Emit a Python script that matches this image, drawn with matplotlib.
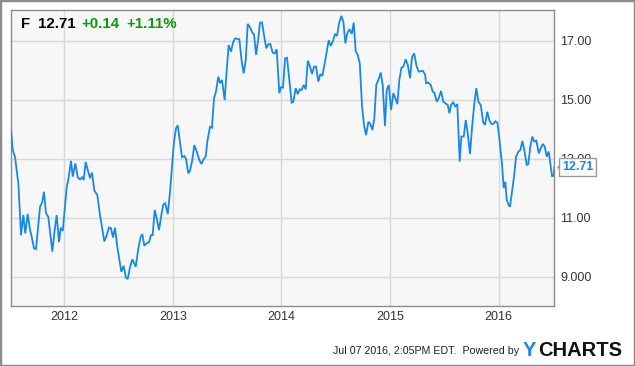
import matplotlib
matplotlib.use("Agg")
import matplotlib.pyplot as plt
from matplotlib.patches import Rectangle
from matplotlib.transforms import ScaledTranslation

plt.rcParams['font.family'] = ['Liberation Sans', 'DejaVu Sans']

# weekly-ish closing prices of F (dates as decimal years)
dates = [2011.510, 2011.525, 2011.546, 2011.577, 2011.602, 2011.623, 2011.641, 2011.663,
         2011.685, 2011.700, 2011.721, 2011.740, 2011.777, 2011.798, 2011.813, 2011.832,
         2011.853, 2011.890, 2011.908, 2011.930, 2011.952, 2011.967, 2011.986, 2012.023,
         2012.037, 2012.062, 2012.078, 2012.102, 2012.124, 2012.145, 2012.163, 2012.179,
         2012.197, 2012.216, 2012.237, 2012.255, 2012.277, 2012.304, 2012.329, 2012.369,
         2012.391, 2012.412, 2012.430, 2012.449, 2012.467, 2012.488, 2012.525, 2012.547,
         2012.566, 2012.584, 2012.605, 2012.627, 2012.658, 2012.682, 2012.704, 2012.719,
         2012.737, 2012.759, 2012.780, 2012.799, 2012.814, 2012.833, 2012.851, 2012.872,
         2012.894, 2012.912, 2012.930, 2012.953, 2012.974, 2012.999, 2013.011, 2013.029,
         2013.045, 2013.059, 2013.084, 2013.105, 2013.121, 2013.142, 2013.158, 2013.179,
         2013.197, 2013.220, 2013.243, 2013.262, 2013.280, 2013.302, 2013.318, 2013.342,
         2013.360, 2013.379, 2013.397, 2013.418, 2013.434, 2013.452, 2013.477, 2013.496,
         2013.514, 2013.535, 2013.557, 2013.575, 2013.593, 2013.612, 2013.634, 2013.652,
         2013.671, 2013.689, 2013.710, 2013.732, 2013.747, 2013.766, 2013.787, 2013.802,
         2013.821, 2013.839, 2013.860, 2013.879, 2013.897, 2013.919, 2013.938, 2013.956,
         2013.980, 2013.996, 2014.014, 2014.033, 2014.051, 2014.069, 2014.094, 2014.109,
         2014.131, 2014.150, 2014.168, 2014.186, 2014.205, 2014.223, 2014.242, 2014.263,
         2014.281, 2014.300, 2014.318, 2014.339, 2014.358, 2014.376, 2014.401, 2014.419,
         2014.435, 2014.453, 2014.475, 2014.493, 2014.511, 2014.530, 2014.551, 2014.570,
         2014.588, 2014.606, 2014.625, 2014.647, 2014.665, 2014.684, 2014.702, 2014.721,
         2014.742, 2014.760, 2014.779, 2014.800, 2014.818, 2014.837, 2014.855, 2014.873,
         2014.892, 2014.914, 2014.932, 2014.953, 2014.969, 2014.988, 2015.009, 2015.030,
         2015.048, 2015.067, 2015.085, 2015.104, 2015.122, 2015.144, 2015.163, 2015.184,
         2015.202, 2015.221, 2015.245, 2015.264, 2015.301, 2015.322, 2015.331, 2015.352,
         2015.374, 2015.393, 2015.407, 2015.430, 2015.448, 2015.469, 2015.490, 2015.509,
         2015.531, 2015.546, 2015.561, 2015.582, 2015.601, 2015.619, 2015.641, 2015.656,
         2015.678, 2015.697, 2015.715, 2015.736, 2015.755, 2015.776, 2015.794, 2015.813,
         2015.835, 2015.856, 2015.874, 2015.895, 2015.914, 2015.932, 2015.951, 2015.969,
         2015.988, 2016.006, 2016.031, 2016.046, 2016.061, 2016.074, 2016.093, 2016.104,
         2016.123, 2016.141, 2016.160, 2016.181, 2016.199, 2016.218, 2016.236, 2016.258,
         2016.273, 2016.291, 2016.310, 2016.328, 2016.347, 2016.369, 2016.387, 2016.406,
         2016.424, 2016.442, 2016.461, 2016.479, 2016.491, 2016.507, 2016.512]
prices = [13.97, 13.30, 13.07, 12.17, 10.41, 11.09, 10.47, 11.13,
          10.58, 10.36, 9.96, 9.94, 11.37, 11.54, 11.88, 11.15,
          11.03, 9.85, 10.47, 11.09, 10.17, 10.66, 10.55, 12.05,
          12.28, 12.93, 12.39, 12.84, 12.37, 12.30, 12.37, 12.28,
          12.89, 12.62, 12.34, 12.53, 11.92, 11.77, 11.09, 10.19,
          10.41, 10.67, 10.64, 10.33, 10.66, 10.02, 9.17, 9.37,
          8.98, 8.92, 9.32, 9.59, 9.34, 9.96, 10.36, 10.44,
          10.05, 10.13, 10.17, 10.41, 10.41, 11.26, 10.98, 10.58,
          11.09, 11.45, 11.49, 11.12, 11.88, 13.07, 13.58, 14.03,
          14.13, 13.75, 13.05, 13.09, 13.00, 12.50, 12.59, 12.96,
          13.46, 13.24, 12.96, 12.82, 12.96, 13.07, 13.60, 14.08,
          14.05, 15.05, 15.27, 15.78, 15.56, 15.67, 14.99, 16.01,
          16.85, 16.63, 16.97, 17.08, 17.06, 17.05, 16.29, 15.89,
          16.35, 17.57, 17.45, 17.27, 17.22, 16.52, 17.08, 17.61,
          17.62, 17.19, 16.74, 16.88, 16.89, 16.59, 16.57, 16.71,
          15.22, 15.42, 15.41, 16.40, 16.42, 15.78, 14.90, 14.93,
          15.39, 15.19, 15.35, 15.33, 15.50, 15.35, 16.32, 16.12,
          15.87, 16.12, 16.12, 15.61, 15.87, 15.80, 16.29, 16.68,
          17.02, 16.82, 17.00, 17.23, 17.16, 17.59, 17.84, 17.64,
          16.91, 17.25, 17.39, 17.23, 17.61, 16.63, 16.52, 16.23,
          14.76, 14.14, 13.80, 14.25, 14.18, 13.97, 14.37, 15.50,
          15.67, 15.92, 15.50, 14.11, 15.33, 15.50, 14.65, 15.22,
          15.05, 14.85, 15.67, 16.08, 16.12, 16.37, 16.18, 15.73,
          16.44, 16.57, 16.12, 15.95, 15.98, 15.86, 15.56, 15.58,
          15.50, 15.27, 15.24, 14.93, 15.05, 15.30, 14.93, 14.88,
          14.82, 14.54, 14.82, 14.92, 14.76, 14.85, 12.90, 13.75,
          13.75, 14.31, 13.86, 13.16, 14.08, 14.88, 15.39, 14.93,
          14.82, 14.25, 14.14, 14.59, 14.31, 14.18, 14.18, 14.27,
          14.22, 13.69, 12.79, 12.00, 12.22, 11.60, 11.43, 11.37,
          11.88, 12.39, 13.07, 13.24, 13.29, 13.60, 13.29, 12.79,
          12.82, 13.41, 13.75, 13.58, 13.61, 13.18, 13.35, 13.50,
          13.41, 13.07, 13.24, 12.73, 12.41, 12.42, 12.71]

year_ticks = [2012, 2013, 2014, 2015, 2016]
year_labels = ["2012", "2013", "2014", "2015", "2016"]
price_ticks = [9, 11, 13, 15, 17]
price_labels = ["9.000", "11.00", "13.00", "15.00", "17.00"]

ticker = "F"
last_price = "12.71"
change = "+0.14"
change_pct = "+1.11%"

W, H = 635, 366
fig = plt.figure(figsize=(W / 100, H / 100), dpi=100)
fig.patch.set_facecolor("white")

ax = fig.add_axes([10.5 / W, 1 - 305.7 / H, (554.3 - 10.5) / W, (305.7 - 10) / H])
ax.set_facecolor("#f7f7f7")
ax.plot(dates, prices, color="#1788e8", lw=1.3, solid_joinstyle="miter", zorder=3)

ax.set_xlim(2011.505, 2016.512)
ax.set_ylim(8.017, 18.04)
ax.set_xticks(year_ticks)
ax.set_xticklabels(year_labels)
ax.set_yticks(price_ticks)
ax.set_yticklabels(price_labels)
ax.yaxis.tick_right()
ax.tick_params(axis="both", length=0, labelsize=9, labelcolor="#333333")
ax.tick_params(axis="x", pad=3.5)
ax.tick_params(axis="y", pad=4.2)
ax.grid(True, color="#d8d8d8", lw=1)
ax.set_axisbelow(True)
for s in ax.spines.values():
    s.set_color("#8c8c8c")
    s.set_linewidth(1)

# last value tag on the right
off = ScaledTranslation(5 / 72, 0, fig.dpi_scale_trans)
ax.plot(dates[-1], prices[-1], marker="<", ms=6, mfc="white", mec="#9a9a9a", mew=1,
        transform=ax.transData + off, clip_on=False, zorder=5)
ax.annotate(f"{prices[-1]:.2f}", xy=(dates[-1], prices[-1]), xytext=(5.5, 0),
            textcoords="offset points", ha="left", va="center", fontsize=9,
            fontweight="bold", color="#1788e8", annotation_clip=False, zorder=6,
            bbox=dict(boxstyle="square,pad=0.22", fc="white", ec="#9a9a9a", lw=1))

# header
hy = 1 - 24 / H
fig.text(21.5 / W, hy, ticker, fontsize=10.8, fontweight="bold", color="black", va="center")
fig.text(38.3 / W, hy, last_price, fontsize=10.8, fontweight="bold", color="black", va="center")
fig.text(81.7 / W, hy, change, fontsize=10.8, fontweight="bold", color="#0a9a0a", va="center")
fig.text(126.7 / W, hy, change_pct, fontsize=10.8, fontweight="bold", color="#0a9a0a", va="center")

# footer
fig.text(519 / W, 1 - 351 / H, "Jul 07 2016, 2:05PM EDT.  Powered by", fontsize=7.7,
         color="#222222", ha="right", va="center")
fig.text(523 / W, 1 - 350 / H, "Y", fontsize=14.5, fontweight="bold", color="#1788e8", va="center")
fig.text(538 / W, 1 - 350 / H, "CHARTS", fontsize=14.5, fontweight="bold", color="#111111", va="center")

fig.patches.append(Rectangle((0, 0), 1, 1, transform=fig.transFigure, fill=False,
                             ec="#8c8c8c", lw=2.5, zorder=10))

fig.savefig("out.png", dpi=100)
